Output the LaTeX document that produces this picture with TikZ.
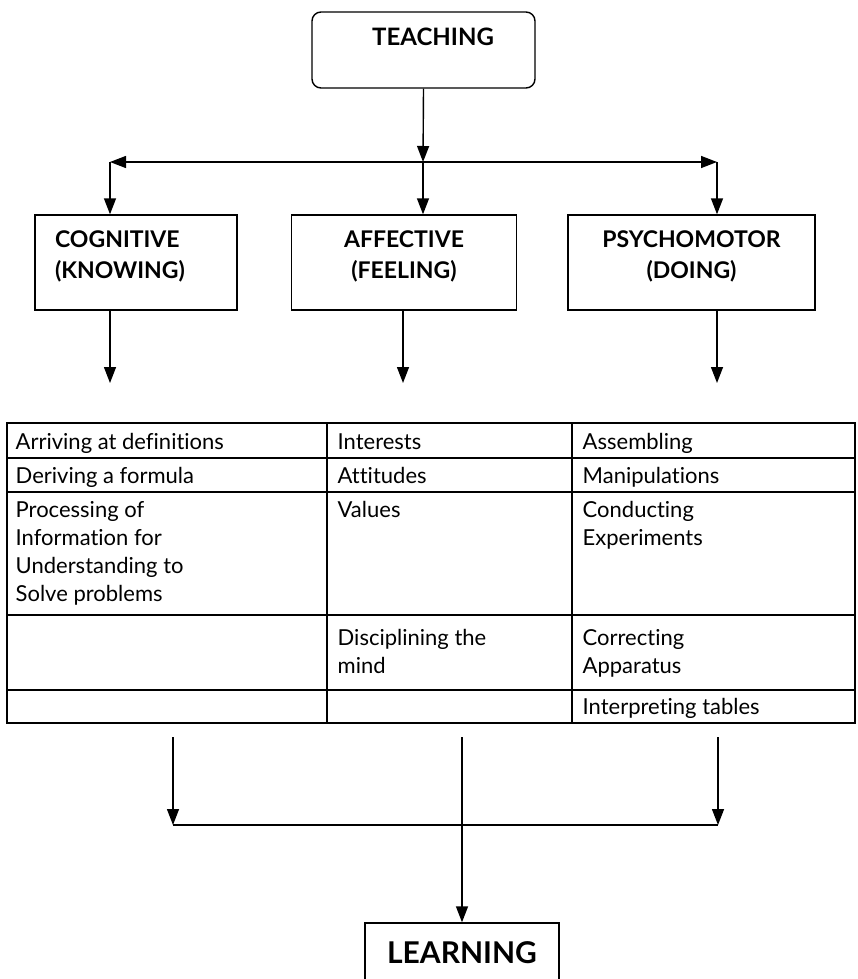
\documentclass[tikz,border=0pt]{standalone}
\usepackage{fontspec}
\setmainfont[Ligatures=NoCommon]{Lato}
\usetikzlibrary{arrows.meta, positioning, calc}
\tikzset{
  headbox/.style={draw, minimum width=#1, minimum height=95pt, inner sep=0pt, text depth=16pt, align=center, font=\bfseries\fontsize{23}{31}\selectfont},
  celltext/.style={anchor=base west, inner sep=0pt, align=left, font=\fontsize{22}{28}\selectfont},
}
\begin{document}
\begin{tikzpicture}[x=1pt, y=-1pt, line width=1.4pt, > = {Triangle[length=16pt,width=12pt]}]
    \useasboundingbox (0,0) rectangle (858,979);
    \def\ca{7}\def\cb{327}\def\cc{572}\def\cd{855}
    % top box
    \node[draw, rounded corners=9pt, minimum width=223pt, minimum height=76pt] (teach) at (423.5,50) {};
    \node[font=\bfseries\fontsize{24}{26}\selectfont] (teachlbl) at (433,37) {TEACHING};
    \coordinate (split) at (423,162);
    \coordinate (splitl) at (110,162);
    \coordinate (splitr) at (717,162);
    \draw[->] (teach.south) -- (split);
    \draw[<->] (splitl) -- (splitr);
    % three domains
    \node[headbox=202pt, align=left] (cog) at (136,262.5) {COGNITIVE\\(KNOWING)\hspace*{32pt}};
    \node[headbox=225pt] (aff) at (404,262.5) {AFFECTIVE\\(FEELING)};
    \node[headbox=247pt] (psy) at (691.5,262.5) {PSYCHOMOTOR\\(DOING)};
    \draw[->] (splitl) -- (splitl |- cog.north);
    \draw[->] (split) -- (split |- aff.north);
    \draw[->] (splitr) -- (splitr |- psy.north);
    \coordinate (cogend) at (110,383);
    \coordinate (affend) at (403,383);
    \coordinate (psyend) at (717,383);
    \draw[->] (cogend |- cog.south) -- (cogend);
    \draw[->] (affend |- aff.south) -- (affend);
    \draw[->] (psyend |- psy.south) -- (psyend);
    % table
    \draw (\ca,423) rectangle (\cd,723);
    \foreach \r in {458,492,615,690} \draw (\ca,\r) -- (\cd,\r);
    \draw (\cb,423) -- (\cb,723);
    \draw (\cc,423) -- (\cc,723);
    \node[celltext] (c11) at (15,449) {Arriving at definitions};
    \node[celltext] (c12) at (15,483) {Deriving a formula};
    \node[celltext] (c13) at (15,601) {Processing of\\Information for\\Understanding to\\Solve problems};
    \node[celltext] (c21) at (337,449) {Interests};
    \node[celltext] (c22) at (337,483) {Attitudes};
    \node[celltext] (c23) at (337,517) {Values};
    \node[celltext] (c24) at (337,673) {Disciplining the\\mind};
    \node[celltext] (c31) at (582,449) {Assembling};
    \node[celltext] (c32) at (582,483) {Manipulations};
    \node[celltext] (c33) at (582,545) {Conducting\\Experiments};
    \node[celltext] (c34) at (582,673) {Correcting\\Apparatus};
    \node[celltext] (c35) at (582,714) {Interpreting tables};
    % merging
    \coordinate (mergel) at (173,737);
    \coordinate (mergec) at (462,737);
    \coordinate (merger) at (718,737);
    \coordinate (joinl) at (173,825);
    \coordinate (joinr) at (718,825);
    \node[draw, minimum width=194pt, minimum height=60pt, font=\bfseries\fontsize{30}{32}\selectfont] (learn) at (462,953) {LEARNING};
    \draw[->] (mergel) -- (joinl);
    \draw[->] (merger) -- (joinr);
    \draw (joinl) -- (joinr);
    \draw[->] (mergec) -- (learn.north);
\end{tikzpicture}
\end{document}
